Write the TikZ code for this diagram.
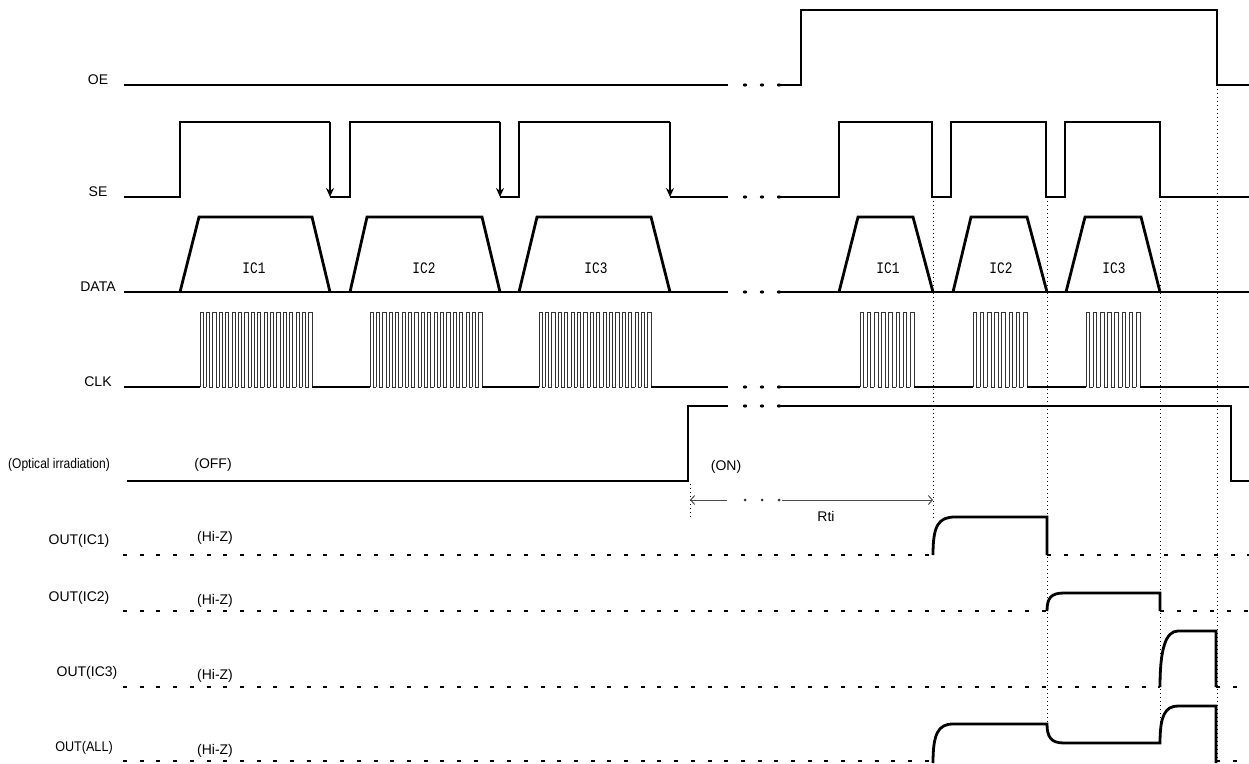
\documentclass[tikz,border=0pt]{standalone}
\usepackage{fontspec}
\setmainfont{Liberation Sans}
\newfontfamily\icfont{Liberation Mono}
\usetikzlibrary{arrows.meta}
\tikzset{
  wave/.style={line width=2.8pt, line cap=butt, line join=miter},
  clkw/.style={line width=0.9pt, black!80},
  guide/.style={line width=0.8pt, dash pattern=on 1.2pt off 2.8pt},
  hiz/.style={line width=2.8pt, dash pattern=on 4pt off 12.7pt},
  lbl/.style={font=\fontsize{14}{16}\selectfont, inner sep=0pt},
  iclbl/.style={font=\fontsize{16}{18}\selectfont\icfont, inner sep=0pt},
  sedown/.style={wave, -{Stealth[length=9pt,width=8pt]}},
  rtiarrow/.style={line width=1pt, black!70},
}
\newcommand\clkburst[3]{%
  \pgfmathsetmacro\clkpp{(#2-#1)/(#3-0.5)}%
  \foreach \i in {1,...,#3}{%
    \draw[clkw] ({#1+(\i-1)*\clkpp},387) -- ++(0,-75) -- ++({\clkpp/2},0) -- ++(0,75) -- ++({\clkpp/2},0);
  }%
}
\newcommand\breakdots[1]{%
  \foreach \bx in {745,762,779}{\fill (\bx,#1) ellipse (2.2pt and 1.6pt);}%
}
\begin{document}
\begin{tikzpicture}[x=1pt,y=-1pt]
\useasboundingbox (0,0) rectangle (1249,763);

% ---------- labels ----------
\node[lbl] (lOE) at (98,80) {OE};
\node[lbl] (lSE) at (98,192) {SE};
\node[lbl] (lDATA) at (98,287) {DATA};
\node[lbl] (lCLK) at (98,382) {CLK};
\node[lbl] (lOPT) at (59,465) {\scalebox{0.86}[1]{(Optical irradiation)}};
\node[lbl] (lOFF) at (213,465) {(OFF)};
\node[lbl] (lON) at (726,467) {(ON)};
\node[lbl] (lRti) at (826,516) {Rti};
\node[lbl] (lO1) at (79,541) {OUT(IC1)};
\node[lbl] (lO2) at (79,598) {OUT(IC2)};
\node[lbl] (lO3) at (87,673) {OUT(IC3)};
\node[lbl] (lO4) at (84,748) {\scalebox{0.9}[1]{OUT(ALL)}};
\node[lbl] (h1) at (215,538) {(Hi-Z)};
\node[lbl] (h2) at (215,601) {(Hi-Z)};
\node[lbl] (h3) at (215,676) {(Hi-Z)};
\node[lbl] (h4) at (215,751) {(Hi-Z)};
\node[iclbl] (d1) at (254,268) {\scalebox{0.8}[1]{IC1}};
\node[iclbl] (d2) at (424,268) {\scalebox{0.8}[1]{IC2}};
\node[iclbl] (d3) at (596,268) {\scalebox{0.8}[1]{IC3}};
\node[iclbl] (d4) at (888,268) {\scalebox{0.8}[1]{IC1}};
\node[iclbl] (d5) at (1001,268) {\scalebox{0.8}[1]{IC2}};
\node[iclbl] (d6) at (1114,268) {\scalebox{0.8}[1]{IC3}};

% ---------- guide lines ----------
\draw[guide] (933,197) -- (933,519);
\draw[guide] (1047,197) -- (1047,724);
\draw[guide] (1160,197) -- (1160,743);
\draw[guide] (1217,85) -- (1217,763);
\draw[guide] (690,484) -- (690,518);

% ---------- OE ----------
\draw[wave] (124,85) -- (728,85);
\breakdots{85}
\draw[wave] (780,85) -- (801,85) -- (801,10) -- (1217,10) -- (1217,85) -- (1249,85);

% ---------- SE ----------
\draw[wave] (124,197) -- (180,197) -- (180,122) -- (330,122);
\draw[sedown] (330,122) -- (330,197);
\draw[wave] (330,197) -- (350,197) -- (350,122) -- (500,122);
\draw[sedown] (500,122) -- (500,197);
\draw[wave] (500,197) -- (519,197) -- (519,122) -- (670,122);
\draw[sedown] (670,122) -- (670,197);
\draw[wave] (670,197) -- (728,197);
\breakdots{197}
\draw[wave] (780,197) -- (839,197) -- (839,122) -- (932,122) -- (932,197) -- (951,197) -- (951,122) -- (1046,122) -- (1046,197) -- (1065,197) -- (1065,122) -- (1160,122) -- (1160,197) -- (1249,197);

% ---------- DATA ----------
\draw[wave] (124,292) -- (728,292);
\draw[wave] (180,292) -- (199,217) -- (312,217) -- (330,292);
\draw[wave] (350,292) -- (367,217) -- (482,217) -- (500,292);
\draw[wave] (519,292) -- (537,217) -- (651,217) -- (670,292);
\breakdots{292}
\draw[wave] (780,292) -- (1249,292);
\draw[wave] (839,292) -- (858,217) -- (913,217) -- (933,292);
\draw[wave] (953,292) -- (971,217) -- (1027,217) -- (1047,292);
\draw[wave] (1066,292) -- (1085,217) -- (1141,217) -- (1160,292);

% ---------- CLK ----------
\draw[wave] (124,387) -- (200,387);
\clkburst{200}{312}{18}
\draw[wave] (312,387) -- (370,387);
\clkburst{370}{482}{18}
\draw[wave] (482,387) -- (539,387);
\clkburst{539}{651}{18}
\draw[wave] (651,387) -- (728,387);
\breakdots{387}
\draw[wave] (780,387) -- (860,387);
\clkburst{860}{914}{8}
\draw[wave] (914,387) -- (973,387);
\clkburst{973}{1027}{8}
\draw[wave] (1027,387) -- (1086,387);
\clkburst{1086}{1140}{8}
\draw[wave] (1140,387) -- (1249,387);

% ---------- Optical irradiation ----------
\draw[wave] (127,481) -- (688,481) -- (688,406) -- (728,406);
\breakdots{406}
\draw[wave] (780,406) -- (1231,406) -- (1231,481) -- (1249,481);

% ---------- Rti ----------
\draw[rtiarrow, {Straight Barb[length=4pt,width=9pt]}-] (690,500) -- (727,500);
\foreach \bx in {745,762,779}{\fill[black!80] (\bx,500) circle (1.5pt);}
\draw[rtiarrow, -{Straight Barb[length=4pt,width=9pt]}] (782,500) -- (933,500);

% ---------- OUT(IC1) ----------
\draw[hiz] (123,555) -- (933,555);
\draw[wave] (933,555) .. controls (933,526) and (938,517) .. (955,517) -- (1047,517) -- (1047,555);
\draw[hiz] (1047,555) -- (1249,555);

% ---------- OUT(IC2) ----------
\draw[hiz] (123,611) -- (1047,611);
\draw[wave] (1047,611) .. controls (1047,598) and (1051,593) .. (1064,593) -- (1160,593) -- (1160,611);
\draw[hiz] (1160,611) -- (1249,611);

% ---------- OUT(IC3) ----------
\draw[hiz] (123,687) -- (1160,687);
\draw[wave] (1160,687) .. controls (1160,648) and (1166,631) .. (1178,631) -- (1216,631) -- (1216,687);
\draw[hiz] (1216,687) -- (1249,687);

% ---------- OUT(ALL) ----------
\draw[hiz] (123,761) -- (933,761);
\draw[wave] (933,763) .. controls (933,734) and (938,724) .. (953,724) -- (1047,724) .. controls (1047,737) and (1051,743) .. (1064,743) -- (1160,743) .. controls (1160,716) and (1165,706) .. (1178,706) -- (1216,706) -- (1216,763);
\draw[hiz] (1216,761) -- (1249,761);
\end{tikzpicture}
\end{document}
